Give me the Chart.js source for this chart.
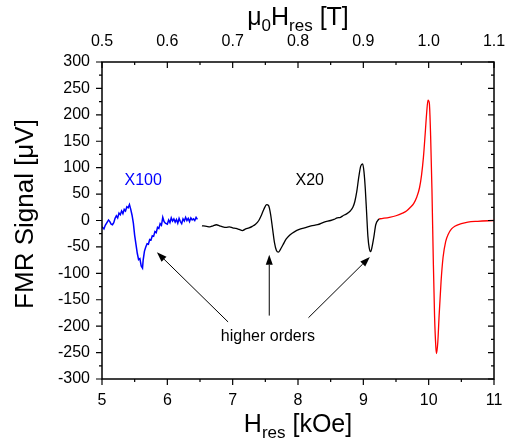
<!DOCTYPE html>
<html>
<head>
<meta charset="utf-8">
<script src="https://cdn.jsdelivr.net/npm/chart.js@4/dist/chart.umd.min.js"></script>
<style>
  html, body { margin: 0; padding: 0; background: #fff; }
  #wrap { width: 506px; height: 443px; }
</style>
</head>
<body>
<div id="wrap"><canvas id="myChart"></canvas></div>
<script>
// field in kOe, signal in uV (scaled traces as in the figure)
const blueField = [5.00, 5.03, 5.05, 5.08, 5.10, 5.12, 5.14, 5.16, 5.18, 5.20, 5.22, 5.24, 5.26, 5.28, 5.30, 5.32, 5.34, 5.36, 5.38, 5.40,
  5.42, 5.44, 5.46, 5.48, 5.50, 5.52, 5.54, 5.56, 5.58, 5.60, 5.62, 5.63, 5.65, 5.67, 5.69, 5.71, 5.73, 5.75, 5.77, 5.79,
  5.81, 5.83, 5.85, 5.87, 5.89, 5.91, 5.93, 5.95, 5.97, 6.00, 6.02, 6.04, 6.06, 6.08, 6.10, 6.12, 6.14, 6.16, 6.18, 6.20,
  6.22, 6.24, 6.26, 6.28, 6.30, 6.32, 6.34, 6.36, 6.38, 6.40, 6.42, 6.44, 6.46];
const blueSignal = [-12, -16, -9, -3, 1, -2, -7, -8, -4, 4, 9, 5, 14, 11, 18, 13, 21, 18, 26, 24,
  30, 21, 10, -5, -28, -45, -62, -74, -72, -86, -90, -75, -58, -50, -44, -45, -36, -37, -29, -30,
  -21, -23, -13, -15, -6, -9, 6, -2, -5, -7, 1, -4, 5, -1, 3, -3, 2, -5, 4, -2,
  -6, 3, -1, 6, 0, 4, -2, 5, 1, 3, 0, 6, 2];

const blackField = [6.53, 6.60, 6.65, 6.70, 6.75, 6.80, 6.85, 6.90, 6.95, 7.00, 7.05, 7.10, 7.15, 7.20, 7.25, 7.30, 7.35, 7.40, 7.44, 7.48,
  7.52, 7.55, 7.58, 7.61, 7.64, 7.67, 7.70, 7.73, 7.77, 7.82, 7.88, 7.95, 8.02, 8.10, 8.20, 8.30, 8.40, 8.50, 8.55, 8.60,
  8.65, 8.70, 8.75, 8.80, 8.84, 8.87, 8.90, 8.93, 8.96, 8.99, 9.01, 9.03, 9.05, 9.07, 9.09, 9.11, 9.13, 9.16, 9.19, 9.24];
const blackSignal = [-10, -11, -12, -10, -8, -10, -12, -13, -12, -14, -15, -17, -19, -16, -14, -11, -7, 0, 10, 22,
  30, 28, 12, -15, -42, -57, -60, -55, -46, -35, -27, -21, -17, -14, -10, -8, -3, 0, 2, 5,
  6, 10, 13, 18, 25, 36, 55, 82, 103, 107, 92, 60, 15, -30, -52, -59, -52, -32, -8, 3];

const redField = [9.24, 9.30, 9.40, 9.50, 9.60, 9.66, 9.72, 9.77, 9.82, 9.86, 9.89, 9.92, 9.95, 9.97, 9.99, 10.01, 10.03, 10.05, 10.07, 10.09,
  10.11, 10.12, 10.14, 10.16, 10.19, 10.22, 10.26, 10.30, 10.35, 10.40, 10.50, 10.60, 10.75, 11.00];
const redSignal = [3, 4, 6, 9, 14, 18, 25, 32, 45, 62, 85, 120, 170, 205, 228, 222, 160, 60, -70, -180,
  -240, -252, -230, -180, -115, -70, -40, -26, -16, -11, -6, -3, -1.5, 0];

const xTicks = [5, 6, 7, 8, 9, 10, 11];
const topTicks = [0.5, 0.6, 0.7, 0.8, 0.9, 1.0, 1.1];

// annotation text and arrows, in data units
const labels = [
  { text: 'X100', x: 5.63, y: 76, color: '#0000ff' },
  { text: 'X20', x: 8.18, y: 76, color: '#000' },
  { text: 'higher orders', x: 7.54, y: -220, color: '#000' }
];
const arrows = [
  { from: [6.93, -192], to: [5.84, -60] },
  { from: [7.56, -180], to: [7.56, -65] },
  { from: [8.16, -184], to: [9.10, -69] }
];

const FONT = '"Liberation Sans", Arial, sans-serif';
const pts = (xs, ys) => xs.map((x, i) => ({ x: x, y: ys[i] }));

const decorations = {
  id: 'decorations',
  afterDraw(chart) {
    const { ctx, chartArea: a, scales } = chart;
    const x = scales.x, t = scales.x2, y = scales.y;
    ctx.save();
    ctx.strokeStyle = '#000';
    ctx.fillStyle = '#000';

    // frame
    ctx.lineWidth = 1.5;
    ctx.strokeRect(a.left, a.top, a.right - a.left, a.bottom - a.top);

    // ticks
    ctx.lineWidth = 1.2;
    ctx.beginPath();
    xTicks.forEach((v, i) => {
      const px = x.getPixelForValue(v);
      ctx.moveTo(px, a.bottom); ctx.lineTo(px, a.bottom + 6);
      if (i < xTicks.length - 1) {
        const m = x.getPixelForValue(v + 0.5);
        ctx.moveTo(m, a.bottom); ctx.lineTo(m, a.bottom + 3);
      }
    });
    topTicks.forEach((v, i) => {
      const px = t.getPixelForValue(v);
      ctx.moveTo(px, a.top); ctx.lineTo(px, a.top + 6);
      if (i < topTicks.length - 1) {
        const m = t.getPixelForValue(v + 0.05);
        ctx.moveTo(m, a.top); ctx.lineTo(m, a.top + 3);
      }
    });
    for (let v = -300; v <= 300; v += 25) {
      const py = y.getPixelForValue(v);
      const len = v % 50 === 0 ? 6 : 3;
      ctx.moveTo(a.left, py); ctx.lineTo(a.left - len, py);
      ctx.moveTo(a.right, py); ctx.lineTo(a.right - len, py);
    }
    ctx.stroke();

    // axis titles
    const cx = (a.left + a.right) / 2;
    const drawParts = (parts, centerX, baseY) => {
      let w = 0;
      parts.forEach(p => { ctx.font = p.sub ? '17px ' + FONT : '25px ' + FONT; w += ctx.measureText(p.s).width; });
      let px = centerX - w / 2;
      ctx.textAlign = 'left';
      ctx.textBaseline = 'alphabetic';
      parts.forEach(p => {
        ctx.font = p.sub ? '17px ' + FONT : '25px ' + FONT;
        ctx.fillText(p.s, px, baseY + (p.sub ? 6 : 0));
        px += ctx.measureText(p.s).width;
      });
    };
    drawParts([{ s: 'H' }, { s: 'res', sub: true }, { s: ' [kOe]' }], cx, 432);
    drawParts([{ s: '\u03bc' }, { s: '0', sub: true }, { s: 'H' }, { s: 'res', sub: true }, { s: ' [T]' }], cx, 25);

    ctx.save();
    ctx.translate(33, 214);
    ctx.rotate(-Math.PI / 2);
    ctx.font = '26px ' + FONT;
    ctx.textAlign = 'center';
    ctx.textBaseline = 'alphabetic';
    ctx.fillText('FMR Signal [\u03bcV]', 0, 0);
    ctx.restore();

    // annotations
    ctx.font = '16px ' + FONT;
    ctx.textAlign = 'center';
    ctx.textBaseline = 'middle';
    labels.forEach(l => {
      ctx.fillStyle = l.color;
      ctx.fillText(l.text, x.getPixelForValue(l.x), y.getPixelForValue(l.y));
    });

    ctx.fillStyle = '#000';
    ctx.lineWidth = 1;
    arrows.forEach(ar => {
      const x0 = x.getPixelForValue(ar.from[0]), y0 = y.getPixelForValue(ar.from[1]);
      const x1 = x.getPixelForValue(ar.to[0]), y1 = y.getPixelForValue(ar.to[1]);
      const ang = Math.atan2(y1 - y0, x1 - x0);
      const hl = 10, hw = 3.5;
      ctx.beginPath();
      ctx.moveTo(x0, y0);
      ctx.lineTo(x1 - hl * Math.cos(ang), y1 - hl * Math.sin(ang));
      ctx.stroke();
      ctx.beginPath();
      ctx.moveTo(x1, y1);
      ctx.lineTo(x1 - hl * Math.cos(ang) + hw * Math.sin(ang), y1 - hl * Math.sin(ang) - hw * Math.cos(ang));
      ctx.lineTo(x1 - hl * Math.cos(ang) - hw * Math.sin(ang), y1 - hl * Math.sin(ang) + hw * Math.cos(ang));
      ctx.closePath();
      ctx.fill();
    });
    ctx.restore();
  }
};

const ctx = document.getElementById('myChart');
new Chart(ctx, {
  type: 'scatter',
  data: {
    datasets: [
      { data: pts(blueField, blueSignal), borderColor: '#0000ff', borderWidth: 1.5, tension: 0 },
      { data: pts(blackField, blackSignal), borderColor: '#000', borderWidth: 1.3, cubicInterpolationMode: 'monotone' },
      { data: pts(redField, redSignal), borderColor: '#ff0000', borderWidth: 1.3, cubicInterpolationMode: 'monotone' }
    ]
  },
  options: {
    responsive: true,
    maintainAspectRatio: false,
    animation: false,
    showLine: true,
    elements: { point: { radius: 0, hoverRadius: 0 } },
    layout: { padding: { right: 12 } },
    plugins: { legend: { display: false }, tooltip: { enabled: false } },
    scales: {
      x: {
        type: 'linear', position: 'bottom', min: 5, max: 11,
        afterBuildTicks: s => { s.ticks = xTicks.map(v => ({ value: v })); },
        ticks: { font: { size: 16, family: FONT }, color: '#000', padding: 12, maxRotation: 0 },
        grid: { display: false, drawTicks: false },
        border: { display: false },
        afterFit: s => { s.height = 64; s.paddingLeft = 0; s.paddingRight = 0; }
      },
      x2: {
        type: 'linear', position: 'top', min: 0.5, max: 1.1,
        afterBuildTicks: s => { s.ticks = topTicks.map(v => ({ value: v })); },
        ticks: { font: { size: 16, family: FONT }, color: '#000', padding: 11, maxRotation: 0,
          callback: v => v.toFixed(1) },
        grid: { display: false, drawTicks: false },
        border: { display: false },
        afterFit: s => { s.height = 62; s.paddingLeft = 0; s.paddingRight = 0; }
      },
      y: {
        min: -300, max: 300,
        ticks: { stepSize: 50, font: { size: 16, family: FONT }, color: '#000', padding: 12 },
        grid: { display: false, drawTicks: false },
        border: { display: false },
        afterFit: s => { s.width = 102; s.paddingTop = 0; s.paddingBottom = 0; }
      }
    }
  },
  plugins: [decorations]
});
</script>
</body>
</html>
